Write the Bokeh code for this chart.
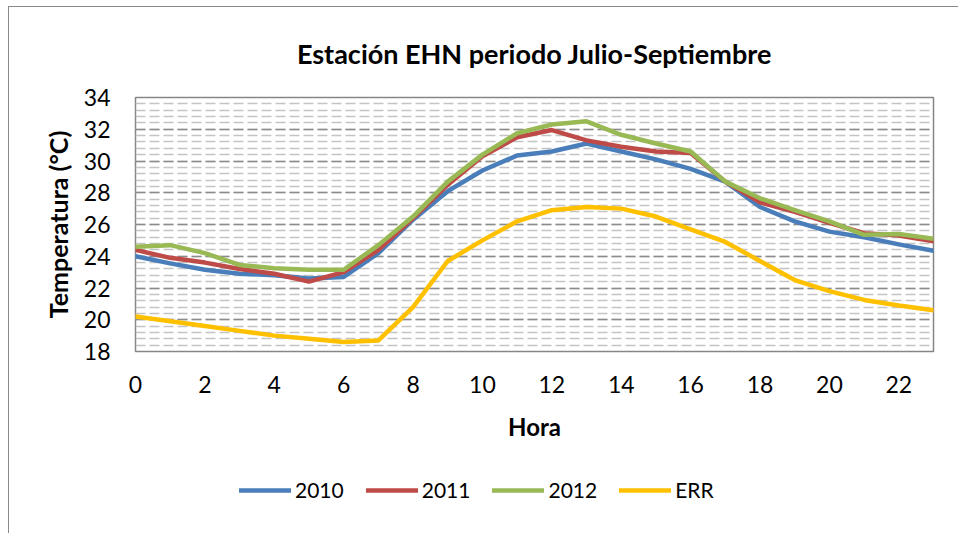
from bokeh.plotting import figure
from bokeh.layouts import column
from bokeh.models import (Range1d, SingleIntervalTicker, Legend, LegendItem,
                          ColumnDataSource)
from bokeh.embed import file_html
from bokeh.resources import INLINE

# ---- data ----
hours = list(range(24))
x_tick_step = 2
y_tick_step = 2
series_names = ["2010", "2011", "2012", "ERR"]
y2010 = [24.0, 23.55, 23.15, 22.9, 22.8, 22.6, 22.7, 24.2, 26.3, 28.1, 29.4, 30.35,
         30.6, 31.1, 30.6, 30.1, 29.5, 28.7, 27.1, 26.2, 25.55, 25.2, 24.75, 24.35]
y2011 = [24.4, 23.9, 23.6, 23.2, 22.9, 22.4, 23.0, 24.4, 26.4, 28.5, 30.3, 31.5,
         31.95, 31.3, 30.9, 30.6, 30.5, 28.7, 27.4, 26.8, 26.1, 25.45, 25.3, 24.95]
y2012 = [24.6, 24.7, 24.2, 23.45, 23.25, 23.15, 23.15, 24.7, 26.5, 28.7, 30.4, 31.75,
         32.3, 32.5, 31.65, 31.1, 30.6, 28.7, 27.65, 26.9, 26.2, 25.35, 25.4, 25.1]
err = [20.2, 19.9, 19.6, 19.3, 19.0, 18.8, 18.6, 18.7, 20.8, 23.7, 25.0, 26.2,
       26.9, 27.1, 27.0, 26.5, 25.7, 24.9, 23.7, 22.5, 21.8, 21.25, 20.9, 20.6]
colors = ["#4A7EBB", "#BE4B48", "#98B954", "#FFC000"]
all_series = [y2010, y2011, y2012, err]

FONT = "Lato"

# ---------------- main chart ----------------
p = figure(width=949, height=438, frame_width=798, frame_height=254,
           output_backend="svg", toolbar_location=None,
           x_range=Range1d(0, 23), y_range=Range1d(18, 34),
           min_border_left=126, min_border_right=25, min_border_top=89,
           min_border_bottom=95)

p.title.text = "Estación EHN periodo Julio-Septiembre"
p.title.align = "center"
p.title.text_font = FONT
p.title.text_font_size = "27px"
p.title.text_font_style = "bold"
p.title.text_color = "#000000"
p.title.standoff = 55

p.outline_line_color = "#868686"
p.outline_line_width = 1.5
p.background_fill_color = "white"
p.border_fill_color = "white"

p.xaxis.ticker = SingleIntervalTicker(interval=x_tick_step, num_minor_ticks=0)
p.xaxis.axis_label = "Hora"
p.xaxis.axis_line_color = None
p.xaxis.major_tick_line_color = None
p.xaxis.minor_tick_line_color = None
p.xaxis.major_label_standoff = 18
p.xaxis.axis_label_standoff = 16

p.yaxis.ticker = SingleIntervalTicker(interval=y_tick_step, num_minor_ticks=5)
p.yaxis.axis_label = "Temperatura (°C)"
p.yaxis.axis_line_color = None
p.yaxis.major_tick_line_color = None
p.yaxis.minor_tick_line_color = None
p.yaxis.major_label_standoff = 19
p.yaxis.axis_label_standoff = 8

for ax in (p.xaxis, p.yaxis):
    ax.major_label_text_font = FONT
    ax.major_label_text_font_size = "23px"
    ax.major_label_text_color = "#000000"
    ax.axis_label_text_font = FONT
    ax.axis_label_text_font_size = "24px"
    ax.axis_label_text_font_style = "bold"
    ax.axis_label_text_color = "#000000"
p.yaxis.axis_label_text_font_size = "25px"

p.xgrid.grid_line_color = None
p.ygrid.grid_line_color = "#8c8c8c"
p.ygrid.grid_line_width = 1.5
p.ygrid.grid_line_dash = "10 4"
p.ygrid.minor_grid_line_color = "#c4c4c4"
p.ygrid.minor_grid_line_width = 1.5
p.ygrid.minor_grid_line_dash = "10 4"

for name, ys, c in zip(series_names, all_series, colors):
    src = ColumnDataSource(dict(x=hours, y=ys))
    p.line("x", "y", source=src, line_color=c, line_width=4.5,
           line_join="round", line_cap="round")

# ---------------- legend strip (same series, drawn outside its view) ----------------
leg = figure(width=949, height=88, output_backend="svg", toolbar_location=None,
             x_range=Range1d(100, 101), y_range=Range1d(100, 101),
             x_axis_location=None, y_axis_location=None,
             min_border_left=0, min_border_right=0, min_border_top=0,
             min_border_bottom=0)
leg.grid.visible = False
leg.outline_line_color = None
leg.background_fill_color = "white"
leg.border_fill_color = "white"

items = []
for name, ys, c in zip(series_names, all_series, colors):
    src = ColumnDataSource(dict(x=hours, y=ys))
    r = leg.line("x", "y", source=src, line_color=c, line_width=4.5,
                 line_join="round", line_cap="round")
    items.append(LegendItem(label=name, renderers=[r]))

legend = Legend(items=items, orientation="horizontal", location=(104, 32),
                glyph_width=52, glyph_height=20, label_standoff=4,
                spacing=22, padding=0, margin=0, border_line_color=None,
                background_fill_alpha=0,
                label_text_font=FONT, label_text_font_size="21px",
                label_text_color="#000000")
leg.add_layout(legend, "center")

layout = column(p, leg, spacing=0)
layout.styles = {"margin-left": "8px", "margin-top": "6px",
                 "border-left": "1px solid #8a8a8a",
                 "border-top": "1px solid #8a8a8a"}

open("out.html", "w").write(file_html(layout, INLINE))
